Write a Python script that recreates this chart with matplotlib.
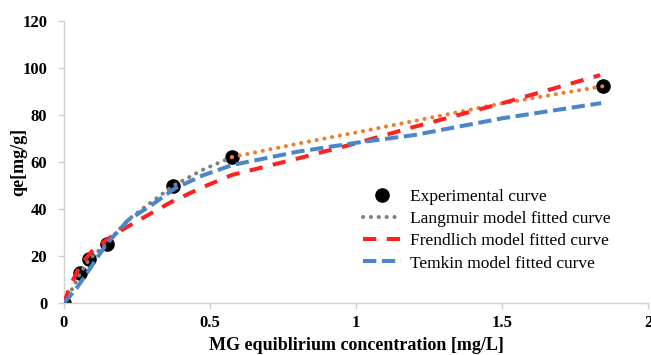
import matplotlib.pyplot as plt

plt.rcParams['font.family'] = 'Liberation Serif'

# experimental isotherm points
ce_exp = [0.0, 0.055, 0.086, 0.147, 0.375, 0.575, 1.846]
qe_exp = [0.0, 12.8, 18.7, 25.0, 50.0, 62.1, 92.3]

# Langmuir fitted curve (low range, then high range)
ce_lang_lo = [0.0, 0.026, 0.055, 0.086, 0.147, 0.22, 0.30, 0.375, 0.48, 0.575]
qe_lang_lo = [0.0, 5.5, 12.5, 18.5, 25.5, 35.5, 43.0, 50.0, 57.0, 62.1]
ce_lang_hi = [0.575, 0.8, 1.0, 1.2, 1.5, 1.846]
qe_lang_hi = [62.1, 67.8, 72.6, 77.5, 85.0, 92.3]

# Freundlich fitted curve
ce_fre = [0.0, 0.02, 0.032, 0.055, 0.094, 0.147, 0.197, 0.277, 0.369, 0.475,
          0.575, 0.8, 1.0, 1.2, 1.5, 1.836]
qe_fre = [0.0, 7.0, 10.0, 16.0, 21.8, 27.0, 31.0, 36.7, 43.1, 49.3,
          54.5, 61.5, 68.0, 75.0, 85.0, 97.0]

# Temkin fitted curve
ce_tem = [0.0, 0.043, 0.078, 0.112, 0.147, 0.22, 0.30, 0.38, 0.475, 0.575,
          0.8, 1.0, 1.2, 1.5, 1.84]
qe_tem = [0.0, 6.3, 12.6, 19.0, 25.3, 35.3, 41.7, 48.8, 54.3, 58.7,
          64.4, 68.2, 71.5, 78.6, 85.1]

fig = plt.figure(figsize=(6.51, 3.55), dpi=100)
ax = fig.add_axes([0.0983, 0.1465, 0.897, 0.794])

ax.plot(ce_exp, qe_exp, 'o', color='black', markersize=9.5, zorder=2,
        label='Experimental curve')
ax.plot(ce_lang_lo, qe_lang_lo, color='#7f7f7f', lw=2.9, ls=(0, (0.05, 1.9)),
        dash_capstyle='round', zorder=3, label='Langmuir model fitted curve')
ax.plot(ce_lang_hi, qe_lang_hi, color='#ed7d31', lw=2.9, ls=(0, (0.05, 1.9)),
        dash_capstyle='round', zorder=3)
ax.plot(ce_fre, qe_fre, color='#ff2020', lw=2.9, ls=(0, (3.3, 2.6)),
        dash_capstyle='butt', zorder=3, label='Frendlich model fitted curve')
ax.plot(ce_tem, qe_tem, color='#4a86c8', lw=2.9, ls=(0, (3.3, 1.4)),
        dash_capstyle='butt', zorder=3, label='Temkin model fitted curve')

ax.set_xlim(0, 2)
ax.set_ylim(0, 120)
ax.set_xticks([0, 0.5, 1, 1.5, 2])
ax.set_xticklabels(['0', '0.5', '1', '1.5', '2'])
ax.set_yticks(range(0, 121, 20))

for s in ['top', 'right']:
    ax.spines[s].set_visible(False)
for s in ['left', 'bottom']:
    ax.spines[s].set_color('#d0d0d0')
    ax.spines[s].set_linewidth(1)
ax.tick_params(colors='#d0d0d0', labelcolor='black', length=4, width=1,
               labelsize=12)
for lab in ax.get_xticklabels() + ax.get_yticklabels():
    lab.set_fontweight('bold')
ax.tick_params(axis='x', pad=5)
ax.tick_params(axis='y', pad=8)

ax.set_xlabel('MG equiblirium concentration [mg/L]', fontsize=13,
              fontweight='bold', labelpad=4)
ax.set_ylabel('qe[mg/g]', fontsize=13, fontweight='bold')
ax.yaxis.set_label_coords(-0.063, 0.5)

ax.legend(loc='upper left', bbox_to_anchor=(0.50, 0.43), frameon=False,
          fontsize=12.5, handlelength=2.2, handletextpad=0.5,
          labelspacing=0.35, borderaxespad=0)

fig.savefig('out.png', dpi=100)
